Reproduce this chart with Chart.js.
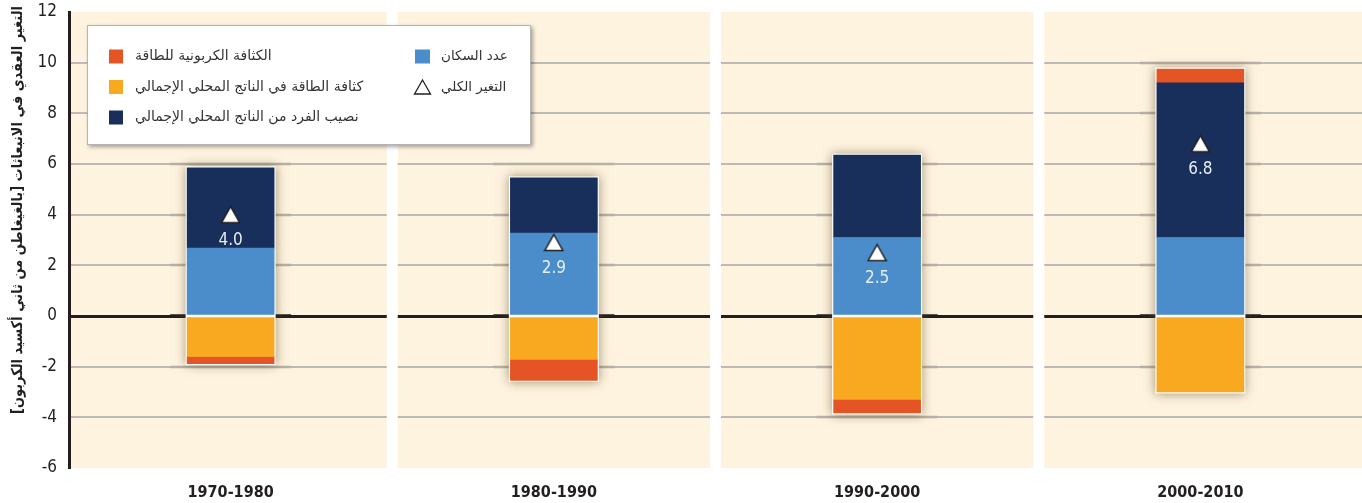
<!DOCTYPE html>
<html><head><meta charset="utf-8">
<script src="https://cdn.jsdelivr.net/npm/chart.js@4.4.1/dist/chart.umd.min.js"></script>
<style>html,body{margin:0;padding:0;background:#fff;overflow:hidden}#wrap{width:1362px;height:503px;position:relative}</style>
</head><body><div id="wrap"><canvas id="c" width="1362" height="503"></canvas></div>
<script>
// ---- data ----
const categories = ['1970-1980', '1980-1990', '1990-2000', '2000-2010'];
const population = [2.68, 3.27, 3.10, 3.10];
const gdpPerCapita = [3.17, 2.18, 3.25, 6.10];
const energyIntensity = [-1.60, -1.71, -3.29, -3.00];
const carbonIntensity = [-0.28, -0.83, -0.54, 0.55];
const totalChange = [4.0, 2.9, 2.5, 6.8];
const totalLabels = ['4.0', '2.9', '2.5', '6.8'];
const yMin = -6, yMax = 12, yStep = 2;

const names = {
  carbon: 'الكثافة الكربونية للطاقة',
  energy: 'كثافة الطاقة في الناتج المحلي الإجمالي',
  gdp: 'نصيب الفرد من الناتج المحلي الإجمالي',
  pop: 'عدد السكان',
  total: 'التغير الكلي'
};
const yTitle = 'التغير العقدي في الانبعاثات [بالغيغاطن من ثاني أكسيد الكربون]';

const COL = { pop: '#4a8dca', gdp: '#172f5a', energy: '#f8a91f', carbon: '#e45425' };
const INK = '#231f20';
const BEIGE = '#fef3df';
const GRID = '#bdbab5';
const NARROW = '"Liberation Sans Narrow", "DejaVu Sans Condensed", "Liberation Sans", Arial, sans-serif';
const ARABIC = '"DejaVu Sans", sans-serif';

function triangleImage(w, h, lw) {
  const c = document.createElement('canvas');
  c.width = w; c.height = h;
  const g = c.getContext('2d');
  g.beginPath();
  g.moveTo(w / 2, lw);
  g.lineTo(w - lw, h - lw);
  g.lineTo(lw, h - lw);
  g.closePath();
  g.fillStyle = '#fff';
  g.fill();
  g.lineWidth = lw;
  g.strokeStyle = INK;
  g.stroke();
  return c;
}
const triImg = triangleImage(21, 19, 1.5);

function stackBoxes(chart) {
  const boxes = [];
  const metas = chart.getSortedVisibleDatasetMetas().filter(m => m.type === 'bar');
  for (let i = 0; i < categories.length; i++) {
    let l = Infinity, r = -Infinity, t = Infinity, b = -Infinity;
    let pos = 0, neg = 0;
    metas.forEach(m => {
      const el = m.data[i];
      const v = chart.data.datasets[m.index].data[i];
      if (v >= 0) pos += v; else neg += v;
      l = Math.min(l, el.x - el.width / 2); r = Math.max(r, el.x + el.width / 2);
      t = Math.min(t, el.y, el.base); b = Math.max(b, el.y, el.base);
    });
    boxes.push({ left: l, right: r, top: t, bottom: b, min: neg, max: pos });
  }
  return boxes;
}

const decor = {
  id: 'decor',
  beforeDraw(chart) {
    const { ctx, chartArea: a } = chart;
    ctx.save();
    ctx.fillStyle = BEIGE;
    ctx.fillRect(a.left, a.top, a.right - a.left, a.bottom - a.top);
    ctx.restore();
  },
  beforeDatasetsDraw(chart) {
    const { ctx, chartArea: a, scales: { x, y } } = chart;
    const band = (a.right - a.left) / categories.length;
    ctx.save();
    ctx.fillStyle = '#fff';
    for (let i = 0; i < categories.length - 1; i++) {
      const bx = x.getPixelForValue(i) + band / 2;
      ctx.fillRect(bx - 5.5, a.top, 11, a.bottom - a.top);
    }
    const boxes = stackBoxes(chart);
    boxes.forEach(b => {
      for (let v = yMin + yStep; v < yMax; v += yStep) {
        if (v < b.min - 0.6 || v > b.max + 0.6) continue;
        const py = Math.round(y.getPixelForValue(v));
        ctx.strokeStyle = v === 0 ? INK : '#b7b0a4';
        ctx.lineWidth = v === 0 ? 3.5 : 2.5;
        ctx.beginPath(); ctx.moveTo(b.left - 17, py); ctx.lineTo(b.right + 17, py); ctx.stroke();
      }
    });
    boxes.forEach(b => {
      ctx.save();
      ctx.shadowColor = 'rgba(90,70,30,0.55)';
      ctx.shadowBlur = 10;
      ctx.fillStyle = '#fff';
      ctx.fillRect(b.left - 1.5, b.top - 1.5, b.right - b.left + 3, b.bottom - b.top + 3);
      ctx.restore();
    });
    ctx.restore();
  },
  afterDatasetsDraw(chart) {
    const { ctx } = chart;
    const meta = chart.getDatasetMeta(chart.data.datasets.length - 1);
    ctx.save();
    ctx.fillStyle = '#e8eef6';
    ctx.font = '17px ' + NARROW;
    ctx.textAlign = 'center';
    ctx.textBaseline = 'middle';
    meta.data.forEach((p, i) => ctx.fillText(totalLabels[i], p.x, p.y + 26));
    ctx.restore();
  },
  afterDraw(chart) {
    const { ctx } = chart;
    ctx.save();
    ctx.translate(18, 210);
    ctx.rotate(-Math.PI / 2);
    ctx.fillStyle = INK;
    ctx.font = 'bold 15px ' + ARABIC;
    ctx.direction = 'rtl';
    ctx.textAlign = 'center';
    ctx.textBaseline = 'middle';
    const tw = ctx.measureText(yTitle).width;
    if (tw > 408) ctx.scale(408 / tw, 1);
    ctx.fillText(yTitle, 0, 0);
    ctx.restore();

    ctx.save();
    ctx.shadowColor = 'rgba(0,0,0,0.35)';
    ctx.shadowBlur = 4; ctx.shadowOffsetX = 2; ctx.shadowOffsetY = 2;
    ctx.fillStyle = '#fff';
    ctx.fillRect(87, 25, 444, 120);
    ctx.restore();
    ctx.save();
    ctx.strokeStyle = '#b4b4b4'; ctx.lineWidth = 1;
    ctx.strokeRect(87.5, 25.5, 443, 119);
    ctx.font = '14px ' + ARABIC;
    ctx.direction = 'rtl';
    ctx.textAlign = 'left';
    ctx.textBaseline = 'middle';
    const rows = [['carbon', 56.5], ['energy', 87], ['gdp', 117.5]];
    rows.forEach(([k, cy]) => {
      ctx.fillStyle = COL[k];
      ctx.fillRect(109, cy - 7, 14, 14);
      ctx.fillStyle = '#333';
      ctx.fillText(names[k], 135, cy);
    });
    ctx.font = '13.5px ' + ARABIC;
    ctx.fillStyle = COL.pop;
    ctx.fillRect(415, 56.5 - 7, 15, 14);
    ctx.fillStyle = '#333';
    ctx.fillText(names.pop, 441, 56.5);
    ctx.beginPath();
    ctx.moveTo(422.5, 80); ctx.lineTo(430.5, 94); ctx.lineTo(414.5, 94); ctx.closePath();
    ctx.fillStyle = '#fff'; ctx.fill();
    ctx.strokeStyle = INK; ctx.lineWidth = 1.3; ctx.stroke();
    ctx.fillStyle = '#333';
    ctx.fillText(names.total, 441, 87.5);
    ctx.restore();
  }
};

new Chart(document.getElementById('c'), {
  type: 'bar',
  data: {
    labels: categories,
    datasets: [
      { type: 'bar', label: names.pop, data: population, backgroundColor: COL.pop, stack: 's', order: 1, barThickness: 87 },
      { type: 'bar', label: names.energy, data: energyIntensity, backgroundColor: COL.energy, stack: 's', order: 1, barThickness: 87 },
      { type: 'bar', label: names.gdp, data: gdpPerCapita, backgroundColor: COL.gdp, stack: 's', order: 1, barThickness: 87 },
      { type: 'bar', label: names.carbon, data: carbonIntensity, backgroundColor: COL.carbon, stack: 's', order: 1, barThickness: 87 },
      { type: 'line', label: names.total, data: totalChange, showLine: false, stack: 't', order: 0,
        pointStyle: triImg, pointRadius: 10, pointHoverRadius: 10 }
    ]
  },
  options: {
    responsive: false,
    animation: false,
    events: [],
    layout: { autoPadding: false, padding: { top: 12, left: 0, right: 0, bottom: 0 } },
    plugins: { legend: { display: false }, tooltip: { enabled: false } },
    scales: {
      x: {
        stacked: true,
        grid: { display: false, drawTicks: false },
        border: { display: false },
        ticks: { color: INK, font: { family: NARROW, size: 16, weight: 'bold' }, padding: 15 },
        afterFit: s => { s.height = 35; s.paddingLeft = 0; s.paddingRight = 0; }
      },
      y: {
        stacked: true,
        min: yMin, max: yMax,
        ticks: { stepSize: yStep, color: INK, font: { family: NARROW, size: 17 }, padding: 12 },
        grid: {
          drawTicks: false,
          color: c => (c.tick.value === yMax || c.tick.value === yMin) ? 'rgba(0,0,0,0)' : (c.tick.value === 0 ? INK : GRID),
          lineWidth: c => c.tick.value === 0 ? 3 : 2
        },
        border: { display: true, color: INK, width: 3 },
        afterFit: s => { s.width = 69; s.paddingTop = 0; s.paddingBottom = 0; }
      }
    }
  },
  plugins: [decor]
});
</script>
</body></html>
